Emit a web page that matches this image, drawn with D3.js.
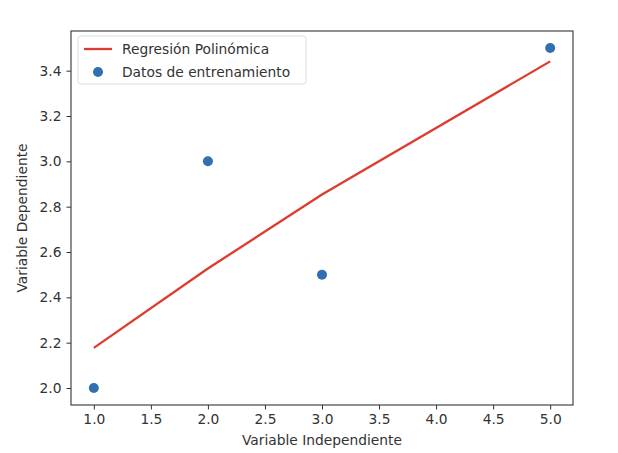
<!DOCTYPE html>
<html>
<head>
<meta charset="utf-8">
<script src="https://cdnjs.cloudflare.com/ajax/libs/d3/7.8.5/d3.min.js"></script>
<style>
    body { margin: 0; background: #fff; }
    text { font-family: "DejaVu Sans", sans-serif; fill: #333; }
</style>
</head>
<body>
<svg id="chart" width="618" height="453"></svg>
<script>
// datos de entrenamiento
var trainX = [1, 2, 3, 5];
var trainY = [2.0, 3.0, 2.5, 3.5];
// curva de la regresión polinómica (grado 2) en los mismos x
var fitY = [2.177, 2.527, 2.854, 3.441];

var xTicks = [1.0, 1.5, 2.0, 2.5, 3.0, 3.5, 4.0, 4.5, 5.0];
var yTicks = [2.0, 2.2, 2.4, 2.6, 2.8, 3.0, 3.2, 3.4];

var svg = d3.select("#chart"),
    margin = {left: 71, right: 45, top: 31, bottom: 48},
    width = +svg.attr("width") - margin.left - margin.right,
    height = +svg.attr("height") - margin.top - margin.bottom;

var x = d3.scaleLinear().domain([0.8, 5.2]).range([0, width]);
var y = d3.scaleLinear().domain([1.925, 3.575]).range([height, 0]);

var g = svg.append("g").attr("transform", "translate(" + margin.left + "," + margin.top + ")");

var lineColor = "#df3a2e",
    dotColor = "#2f6fb2",
    fs = 13.8;

// ejes
var xAxis = g.append("g")
    .attr("transform", "translate(0," + height + ")")
    .call(d3.axisBottom(x).tickValues(xTicks).tickFormat(d3.format(".1f")).tickSize(4.5).tickPadding(5));
var yAxis = g.append("g")
    .call(d3.axisLeft(y).tickValues(yTicks).tickFormat(d3.format(".1f")).tickSize(4.5).tickPadding(5));

[xAxis, yAxis].forEach(function(a) {
    a.select(".domain").remove();
    a.selectAll("line").attr("stroke", "#333");
    a.selectAll("text").attr("font-size", fs).style("fill", "#333");
});

// marco
g.append("rect")
    .attr("width", width)
    .attr("height", height)
    .attr("fill", "none")
    .attr("stroke", "#333")
    .attr("stroke-width", 1.1);

// línea
var line = d3.line()
    .x(function(d, i) { return x(trainX[i]); })
    .y(function(d) { return y(d); });

g.append("path")
    .datum(fitY)
    .attr("d", line)
    .attr("fill", "none")
    .attr("stroke", lineColor)
    .attr("stroke-width", 2.3);

// puntos
g.selectAll("circle.pt")
    .data(trainY)
    .enter().append("circle")
    .attr("class", "pt")
    .attr("cx", function(d, i) { return x(trainX[i]); })
    .attr("cy", function(d) { return y(d); })
    .attr("r", 5)
    .attr("fill", dotColor);

// etiquetas de ejes
svg.append("text")
    .attr("x", margin.left + width / 2)
    .attr("y", 445)
    .attr("text-anchor", "middle")
    .attr("font-size", fs)
    .text("Variable Independiente");

svg.append("text")
    .attr("transform", "translate(27," + (margin.top + height / 2) + ") rotate(-90)")
    .attr("text-anchor", "middle")
    .attr("font-size", fs)
    .text("Variable Dependiente");

// leyenda
var legend = g.append("g").attr("transform", "translate(7,5)");
legend.append("rect")
    .attr("width", 228)
    .attr("height", 48)
    .attr("rx", 3)
    .attr("fill", "#fff")
    .attr("fill-opacity", 0.8)
    .attr("stroke", "#ddd");

legend.append("line")
    .attr("x1", 6).attr("x2", 34)
    .attr("y1", 13).attr("y2", 13)
    .attr("stroke", lineColor)
    .attr("stroke-width", 2.3);
legend.append("text")
    .attr("x", 44).attr("y", 18)
    .attr("font-size", fs)
    .text("Regresión Polinómica");

legend.append("circle")
    .attr("cx", 20).attr("cy", 36)
    .attr("r", 5)
    .attr("fill", dotColor);
legend.append("text")
    .attr("x", 44).attr("y", 41)
    .attr("font-size", fs)
    .text("Datos de entrenamiento");
</script>
</body>
</html>
